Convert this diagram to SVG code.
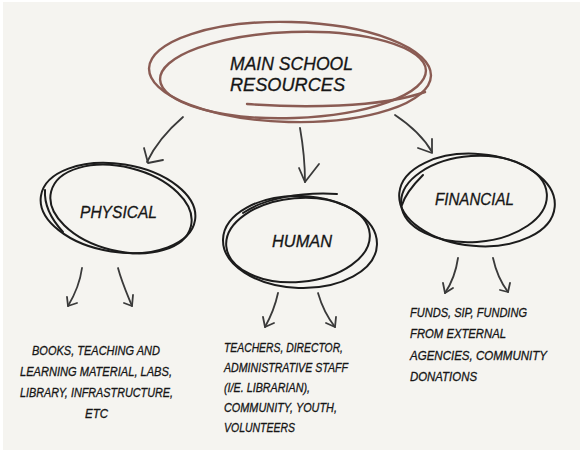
<svg xmlns="http://www.w3.org/2000/svg" width="580" height="450" viewBox="0 0 580 450">
<style>
.bg{fill:#f5f4f0}
.brown{fill:none;stroke:#8a5b53;stroke-width:2.4;stroke-linecap:round}
.ink{fill:none;stroke:#1c1c1c;stroke-width:2;stroke-linecap:round}
.arr{fill:none;stroke:#3a3a3a;stroke-width:1.8;stroke-linecap:round;stroke-linejoin:round}
.t{font-family:"Liberation Sans",Arial,sans-serif;font-style:italic;fill:#161616;stroke:#161616;stroke-width:0.3}
.title{font-size:18.5px}
.lbl{font-size:17px}
.body{font-size:12.5px}
</style>
<rect width="580" height="450" fill="#ffffff"/>
<rect class="bg" x="3" y="2" width="577" height="448"/>

<g id="main">
<ellipse class="brown" cx="290" cy="72" rx="141" ry="50" transform="rotate(1.5 290 72)"/>
<ellipse class="brown" cx="293" cy="75" rx="133" ry="43" transform="rotate(-2 293 75)"/>
<path class="brown" d="M247,104 C300,108 380,108 425,92"/>
<text class="t title" x="230" y="70" textLength="123" lengthAdjust="spacingAndGlyphs">MAIN SCHOOL</text>
<text class="t title" x="230" y="91" textLength="115" lengthAdjust="spacingAndGlyphs">RESOURCES</text>
</g>

<g id="physical">
<ellipse class="ink" cx="118" cy="208" rx="78" ry="44" transform="rotate(9 118 208)"/>
<ellipse class="ink" cx="121" cy="209" rx="72" ry="42" transform="rotate(14 121 209)"/>
<path class="ink" d="M63,232 C52,220 44,205 45,190"/>
<text class="t lbl" x="80" y="218" textLength="77" lengthAdjust="spacingAndGlyphs">PHYSICAL</text>
</g>

<g id="human">
<ellipse class="ink" cx="300" cy="242" rx="77" ry="46" transform="rotate(2 300 242)"/>
<ellipse class="ink" cx="298" cy="240" rx="72" ry="42" transform="rotate(-5 298 240)"/>
<path class="ink" d="M337,194 C300,192 265,198 243,213"/>
<text class="t lbl" x="272" y="247" textLength="60" lengthAdjust="spacingAndGlyphs">HUMAN</text>
</g>

<g id="financial">
<ellipse class="ink" cx="477" cy="200" rx="78" ry="46" transform="rotate(5 477 200)"/>
<ellipse class="ink" cx="474" cy="199" rx="73" ry="43" transform="rotate(-4 474 199)"/>
<path class="ink" d="M423,175 C413,185 405,195 402,205"/>
<text class="t lbl" x="435" y="205" textLength="79" lengthAdjust="spacingAndGlyphs">FINANCIAL</text>
</g>

<g id="connectors">
<path class="arr" d="M183,117 C168,130 155,145 147,162"/>
<path class="arr" d="M144,148 L148,163 L163,160"/>
<path class="arr" d="M300,128 C303,145 305,165 305,182"/>
<path class="arr" d="M299,168 L305,182 L319,164"/>
<path class="arr" d="M395,115 C410,125 424,138 432,152"/>
<path class="arr" d="M418,148 L432,153 L432,139"/>

<path class="arr" d="M82,268 C80,283 74,296 68,306"/>
<path class="arr" d="M67,297 L68,306 L77,303"/>
<path class="arr" d="M118,268 C122,283 128,296 132,306"/>
<path class="arr" d="M124,303 L132,306 L133,295"/>

<path class="arr" d="M278,293 C275,307 270,318 265,327"/>
<path class="arr" d="M263,317 L265,327 L274,323"/>
<path class="arr" d="M318,293 C322,307 328,318 335,327"/>
<path class="arr" d="M326,323 L335,327 L336,317"/>

<path class="arr" d="M458,258 C456,272 451,284 445,293"/>
<path class="arr" d="M443,283 L445,293 L453,288"/>
<path class="arr" d="M493,258 C496,272 502,284 508,292"/>
<path class="arr" d="M500,290 L508,292 L510,283"/>
</g>

<g id="physical-text">
<text class="t body" x="32" y="355" textLength="128" lengthAdjust="spacingAndGlyphs">BOOKS, TEACHING AND</text>
<text class="t body" x="20" y="376" textLength="152" lengthAdjust="spacingAndGlyphs">LEARNING MATERIAL, LABS,</text>
<text class="t body" x="20" y="397" textLength="153" lengthAdjust="spacingAndGlyphs">LIBRARY, INFRASTRUCTURE,</text>
<text class="t body" x="85" y="418" textLength="23" lengthAdjust="spacingAndGlyphs">ETC</text>
</g>

<g id="human-text">
<text class="t body" x="224" y="352" textLength="119" lengthAdjust="spacingAndGlyphs">TEACHERS, DIRECTOR,</text>
<text class="t body" x="224" y="372" textLength="124" lengthAdjust="spacingAndGlyphs">ADMINISTRATIVE STAFF</text>
<text class="t body" x="224" y="392" textLength="86" lengthAdjust="spacingAndGlyphs">(I/E. LIBRARIAN),</text>
<text class="t body" x="224" y="412" textLength="113" lengthAdjust="spacingAndGlyphs">COMMUNITY, YOUTH,</text>
<text class="t body" x="224" y="432" textLength="71" lengthAdjust="spacingAndGlyphs">VOLUNTEERS</text>
</g>

<g id="financial-text">
<text class="t body" x="410" y="317" textLength="117" lengthAdjust="spacingAndGlyphs">FUNDS, SIP, FUNDING</text>
<text class="t body" x="410" y="338" textLength="96" lengthAdjust="spacingAndGlyphs">FROM EXTERNAL</text>
<text class="t body" x="410" y="360" textLength="137" lengthAdjust="spacingAndGlyphs">AGENCIES, COMMUNITY</text>
<text class="t body" x="410" y="381" textLength="67" lengthAdjust="spacingAndGlyphs">DONATIONS</text>
</g>
</svg>
